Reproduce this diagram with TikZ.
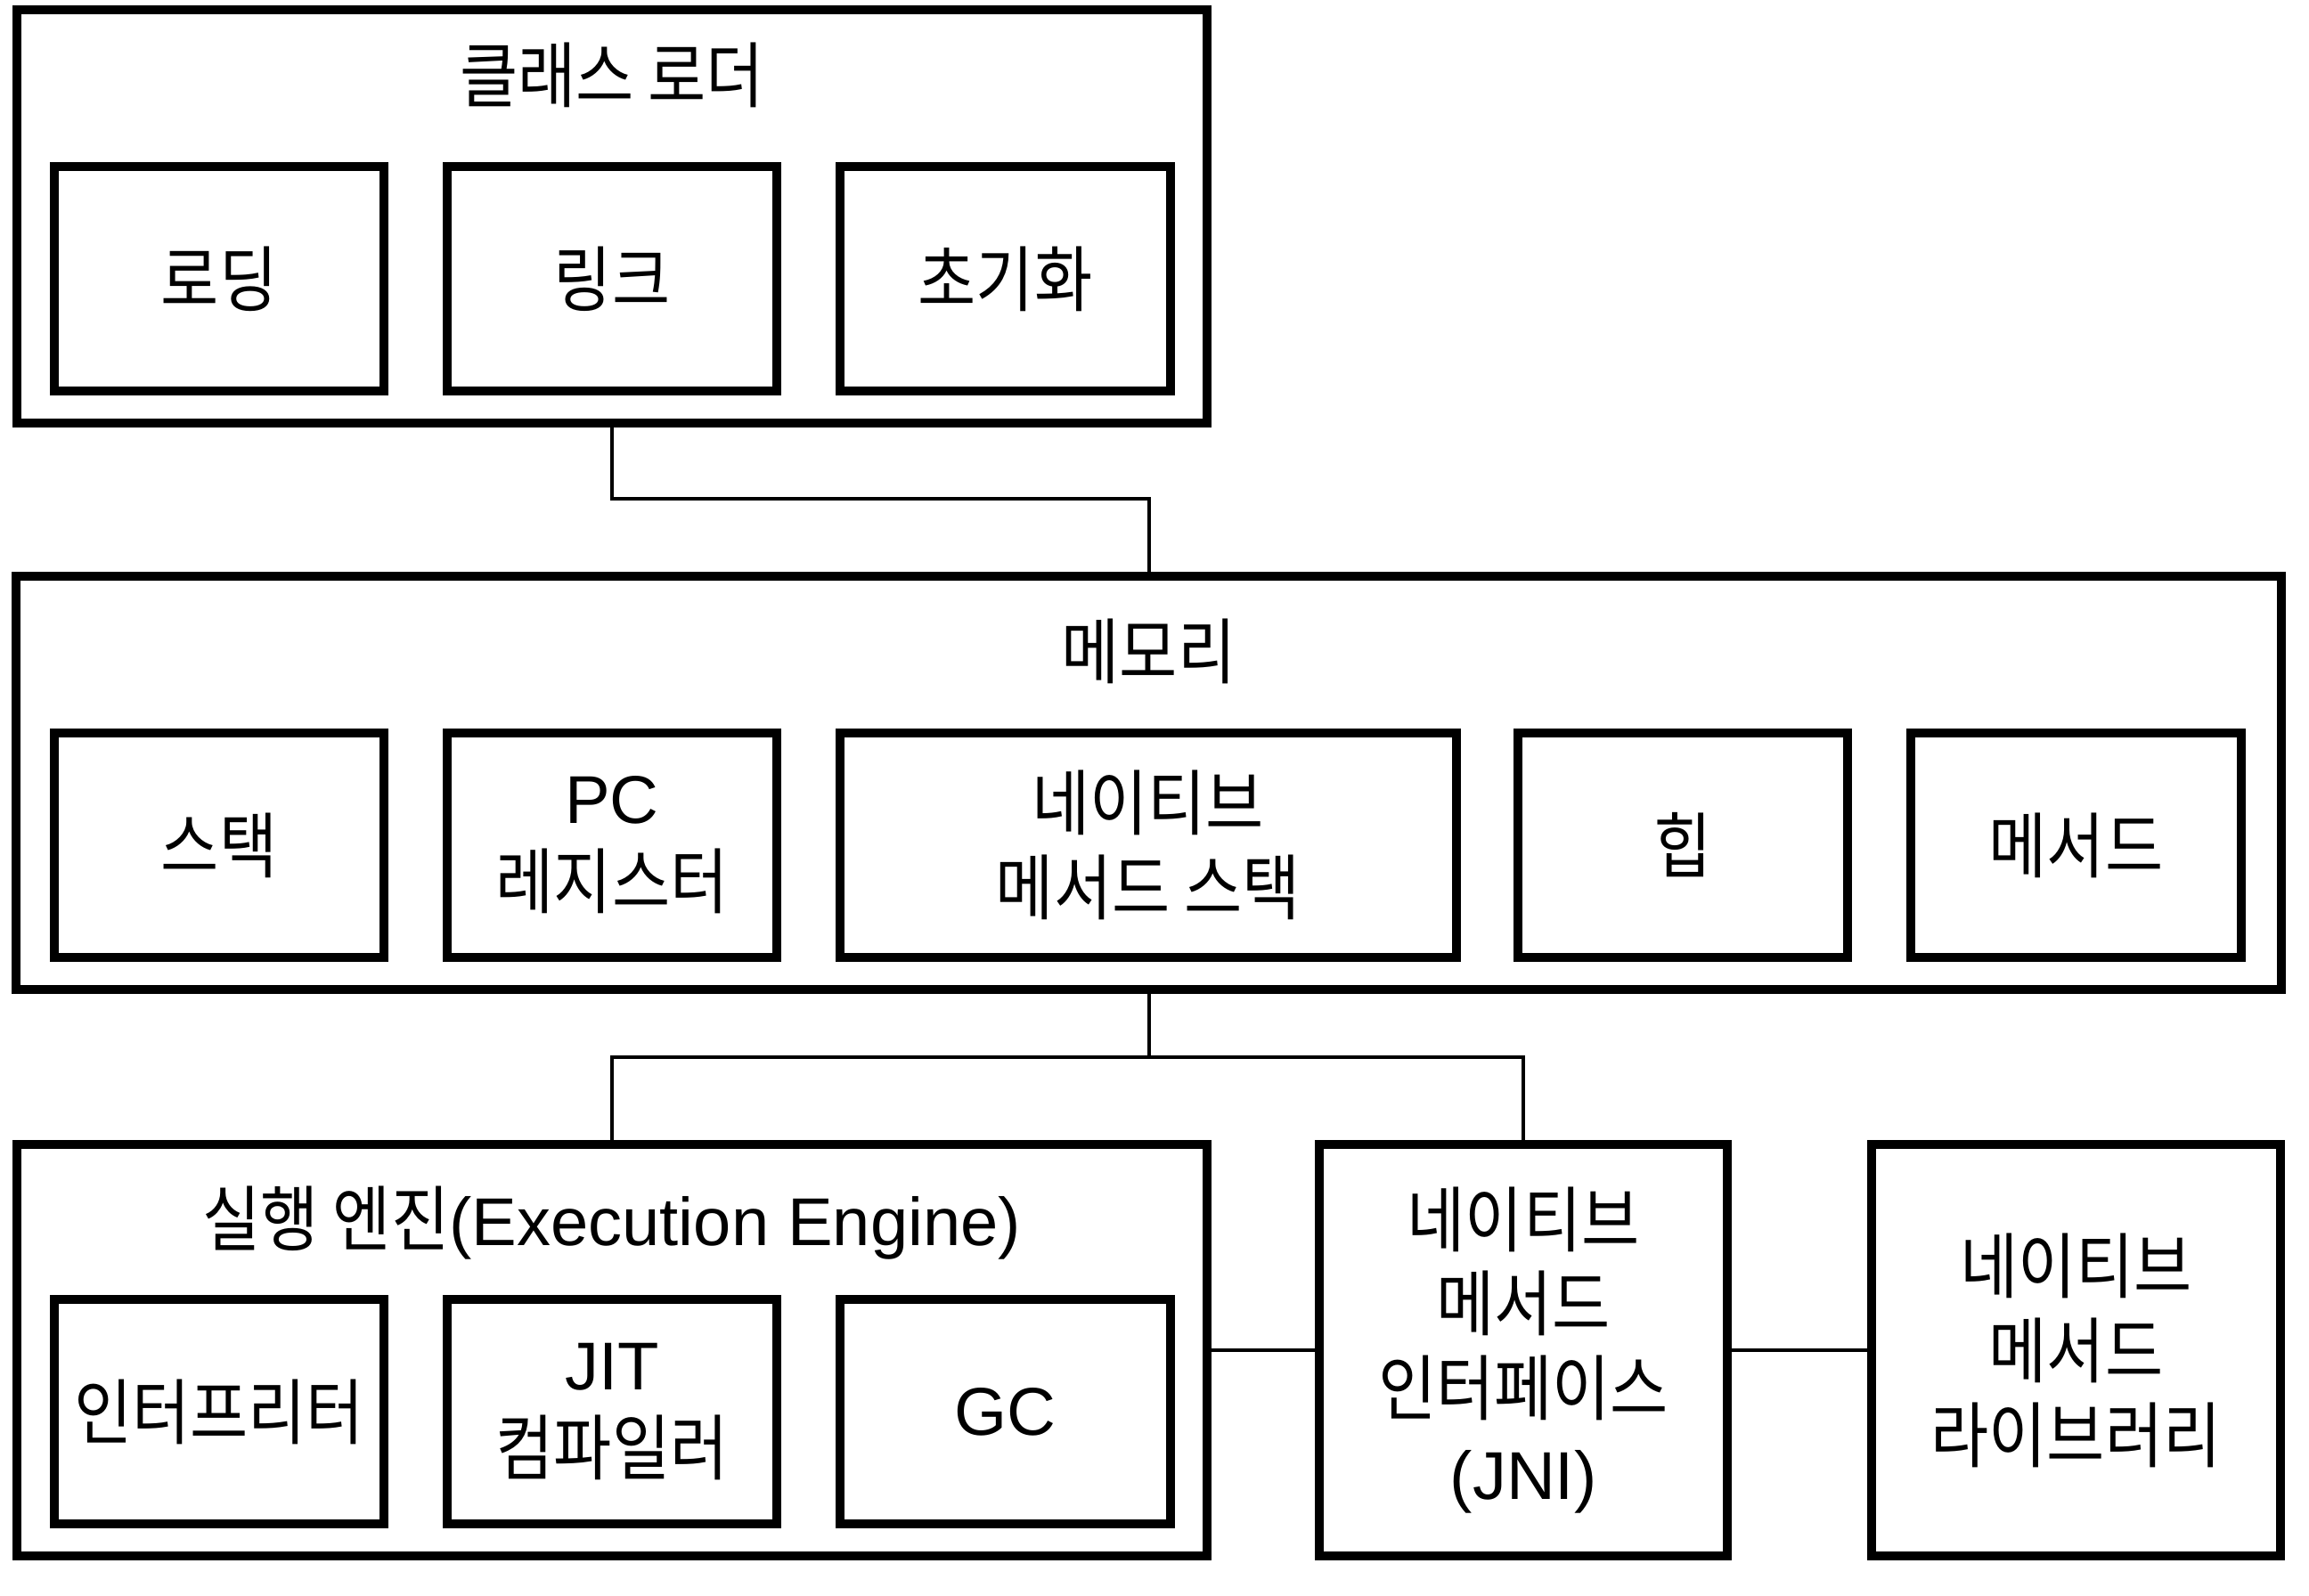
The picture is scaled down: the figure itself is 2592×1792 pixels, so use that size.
\documentclass[tikz,border=0pt]{standalone}
\usepackage{fontspec}
\setmainfont{Liberation Sans}
\newfontfamily\krfont[FakeStretch=0.88, Scale=1.06]{Noto Sans CJK KR}
\newcommand\hgl[1]{{\krfont #1}}
\tikzset{
  lbl/.style={inner sep=0pt, align=center, font=\fontsize{21.6pt}{27pt}\selectfont},
  box/.style={lbl, draw, line width=0.1cm},
  ibox/.style={box, minimum width=3.70cm, minimum height=2.52cm},
  conn/.style={line width=0.04cm}
}
\begin{document}
\begin{tikzpicture}[x=0.01cm, y=-0.01cm]
\fill[white] (0,0) rectangle (2592,1792);
\path[use as bounding box] (0,0) rectangle (2592,1792);

% class loader
\node[box, minimum width=13.36cm, minimum height=4.64cm] (cl) at (687,243) {};
\node[lbl] (clt) at (687,84) {\hgl{클래스 로더}};
\node[ibox] (load) at (246,313) {\hgl{로딩}};
\node[ibox] (link) at (687,313) {\hgl{링크}};
\node[ibox, minimum width=3.71cm] (init) at (1128.5,313) {\hgl{초기화}};

% memory
\node[box, minimum width=25.41cm, minimum height=4.64cm] (mem) at (1289.5,879) {};
\node[lbl] (memt) at (1289.5,731) {\hgl{메모리}};
\node[ibox] (stk) at (246,949) {\hgl{스택}};
\node[ibox] (pc) at (687,949) {PC\\\hgl{레지스터}};
\node[ibox, minimum width=6.915cm] (nms) at (1288.75,949) {\hgl{네이티브}\\\hgl{메서드 스택}};
\node[ibox] (heap) at (1889,949) {\hgl{힙}};
\node[ibox, minimum width=3.71cm] (meth) at (2330.5,949) {\hgl{메서드}};

% execution engine
\node[box, minimum width=13.36cm, minimum height=4.62cm] (ex) at (687,1516) {};
\node[lbl] (ext) at (687,1373) {\hgl{실행 엔진}(Execution Engine)};
\node[ibox] (intp) at (246,1585) {\hgl{인터프리터}};
\node[ibox] (jit) at (687,1585) {JIT\\\hgl{컴파일러}};
\node[ibox, minimum width=3.71cm] (gc) at (1128.5,1585) {GC};

% JNI and library
\node[box, minimum width=4.58cm, minimum height=4.62cm] (jni) at (1710,1516)
  {\hgl{네이티브}\\\hgl{메서드}\\\hgl{인터페이스}\\(JNI)};
\node[box, minimum width=4.59cm, minimum height=4.62cm] (lib) at (2330.5,1516)
  {\hgl{네이티브}\\\hgl{메서드}\\\hgl{라이브러리}};

% connectors
\coordinate (j1) at (687,560);
\draw[conn] (cl.south) -- (j1) -| (mem.north);
\coordinate (j2) at (1289.5,1187);
\draw[conn] (mem.south) -- (j2);
\draw[conn] (j2) -| (ex.north);
\draw[conn] (j2) -| (jni.north);
\draw[conn] (ex.east) -- (jni.west);
\draw[conn] (jni.east) -- (lib.west);
\end{tikzpicture}
\end{document}
